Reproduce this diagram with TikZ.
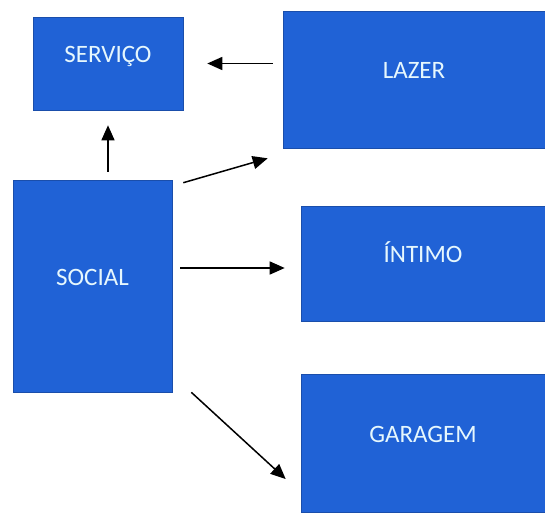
\documentclass[tikz,border=0pt]{standalone}
\usepackage{fontspec}
\setmainfont{Carlito}
\usetikzlibrary{arrows.meta,calc}
\definecolor{boxblue}{RGB}{32,98,214}
\tikzset{
  zone/.style={fill=boxblue,draw=boxblue!80!black,line width=0.6pt,text=white!90!cyan,
    font=\fontsize{25}{29}\selectfont,text height=16pt,text depth=17.5pt,
    inner sep=0pt,anchor=center},
  arr/.style={line width=1.5pt,-{Triangle[length=15pt,width=13pt]}}
}
\begin{document}
\begin{tikzpicture}[x=1pt,y=-1pt]
  \useasboundingbox (0,0) rectangle (545,512);
  \node[zone,minimum width=150pt,minimum height=93pt] (servico) at (108,63.5) {SERVIÇO};
  \node[zone,minimum width=262pt,minimum height=137pt] (lazer) at (414,79.5) {LAZER};
  \node[zone,minimum width=159pt,minimum height=212pt] (social) at (92.5,286) {SOCIAL};
  \node[zone,minimum width=244pt,minimum height=115pt] (intimo) at (423,263.5) {ÍNTIMO};
  \node[zone,minimum width=244pt,minimum height=138pt] (garagem) at (423,443) {GARAGEM};
  \draw[arr,shorten <=10pt,shorten >=24pt] (lazer.west |- servico.east) -- (servico.east);
  \draw[arr,shorten <=8pt,shorten >=15pt] (social.north -| servico.south) -- (servico.south);
  \draw[arr] ($(social.north east)+(11,3)$) -- ($(lazer.south west)+(-15,10)$);
  \draw[arr] ($(social.east)+(8,-18)$) -- ($(intimo.west)+(-16,4.5)$);
  \draw[arr] ($(social.south east)+(19,0)$) -- ($(garagem.west)+(-15,36)$);
\end{tikzpicture}
\end{document}
